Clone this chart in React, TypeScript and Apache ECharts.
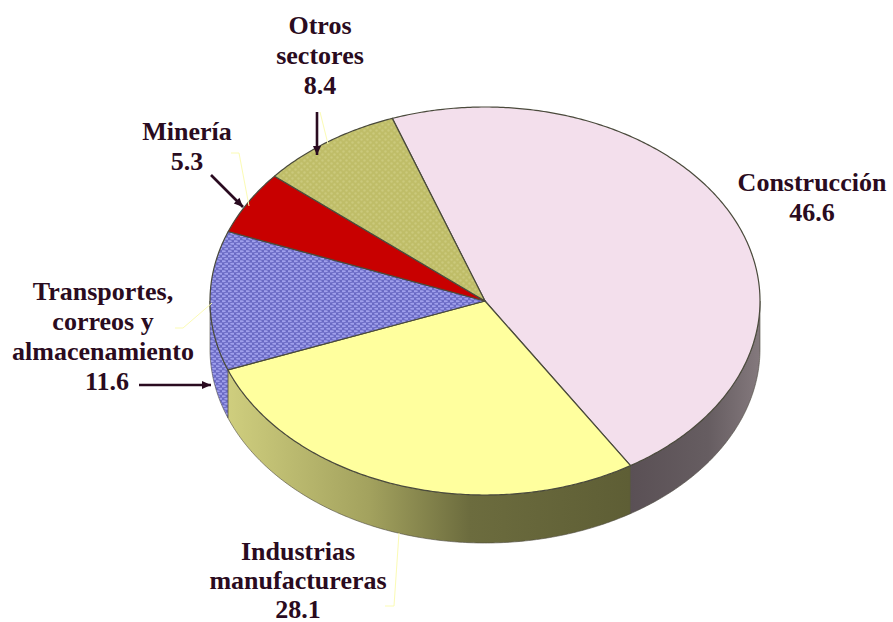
import React, { useEffect, useRef } from "react";
import * as echarts from "echarts";

const categories = ["Construcción", "Industrias manufactureras", "Transportes, correos y almacenamiento", "Minería", "Otros sectores"];
const values = [46.6, 28.1, 11.6, 5.3, 8.4];
const labelLines = [
  ["Construcción"],
  ["Industrias", "manufactureras"],
  ["Transportes,", "correos y", "almacenamiento"],
  ["Minería"],
  ["Otros", "sectores"],
];

const FONT = '"Liberation Serif", "Times New Roman", serif';
const INK = "#2a0b20";
const LEADER = "#fbfbb4";

function makePattern(w: number, h: number, bg: string, dot: string, rx: number, ry: number) {
  const c = document.createElement("canvas");
  c.width = w;
  c.height = h;
  const g = c.getContext("2d")!;
  g.fillStyle = bg;
  g.fillRect(0, 0, w, h);
  g.fillStyle = dot;
  const pts = [[w / 4, h / 4], [(3 * w) / 4, (3 * h) / 4]];
  pts.forEach(([x, y]) => {
    g.beginPath();
    g.ellipse(x, y, rx, ry, 0, 0, Math.PI * 2);
    g.fill();
  });
  return c;
}

export default function App() {
  const ref = useRef<HTMLDivElement>(null);
  useEffect(() => {
    const chart = echarts.init(ref.current!, null, { renderer: "svg" });
    const cx = 485, cy = 301, rx = 275, ry = 194, depth = 48;
    const start = (340.3 * Math.PI) / 180;
    const total = values.reduce((a, b) => a + b, 0);
    const pt = (a: number, dy = 0) => [cx + rx * Math.sin(a), cy - ry * Math.cos(a) + dy];
    const arc = (a0: number, a1: number, dy = 0) => {
      const n = Math.max(2, Math.ceil(Math.abs(a1 - a0) / 0.01));
      const out: number[][] = [];
      for (let i = 0; i <= n; i++) out.push(pt(a0 + ((a1 - a0) * i) / n, dy));
      return out;
    };

    const blue = { image: makePattern(6, 5, "#6a6ac4", "#a0a0ec", 2.4, 1.1), repeat: "repeat" };
    const olive = { image: makePattern(6, 6, "#bfbd68", "#cbc97c", 1.2, 1.2), repeat: "repeat" };
    const tops: any[] = ["#f3dfec", "#ffff9e", blue, "#c80000", olive];
    const gx = (stops: [number, string][]) =>
      new echarts.graphic.LinearGradient(0, 0, 1, 0, stops.map(([offset, color]) => ({ offset, color })));
    const walls: any[] = [
      gx([[0, "#5a5055"], [0.6, "#665d61"], [1, "#84797d"]]),
      gx([[0, "#cfce7e"], [0.35, "#a3a25e"], [0.6, "#6c6c3e"], [1, "#5e5e35"]]),
      blue,
      "#8c0000",
      olive,
    ];

    const sweep = (v: number) => (v / total) * Math.PI * 2;

    const renderItem = (params: any, api: any) => {
      const i = params.dataIndex;
      let a0 = start;
      for (let k = 0; k < i; k++) a0 += sweep(values[k]);
      const a1 = a0 + sweep(api.value(0));
      const children: any[] = [];
      const low0 = Math.PI / 2, low1 = (3 * Math.PI) / 2;
      for (const shift of [0, 2 * Math.PI]) {
        const w0 = Math.max(a0 - shift, low0), w1 = Math.min(a1 - shift, low1);
        if (w1 > w0) {
          children.push({
            type: "polygon",
            z2: 1,
            shape: { points: [...arc(w0, w1), ...arc(w1, w0, depth)] },
            style: { fill: walls[i], stroke: "#4e4a40", lineWidth: 0.6 },
          });
        }
      }
      children.push({
        type: "polygon",
        z2: 10,
        shape: { points: [[cx, cy], ...arc(a0, a1)] },
        style: { fill: tops[i], stroke: "#4a4a3c", lineWidth: 1.2, lineJoin: "round" },
      });
      return { type: "group", children };
    };

    const text = (t: string, x: number, y: number) => ({
      type: "text",
      x,
      y,
      z: 20,
      style: { text: t, x: 0, y: 0, fill: INK, font: `bold 26px ${FONT}`, align: "center", verticalAlign: "middle" },
    });
    const line = (pts: number[][], stroke: string, lineWidth: number) => ({
      type: "polyline",
      z: 15,
      shape: { points: pts },
      style: { stroke, lineWidth, fill: "none" },
    });
    const head = (tip: number[], from: number[]) => {
      const L = 9, W = 4;
      const d = Math.hypot(tip[0] - from[0], tip[1] - from[1]);
      const ux = (tip[0] - from[0]) / d, uy = (tip[1] - from[1]) / d;
      return {
        type: "polygon",
        z: 15,
        shape: {
          points: [tip, [tip[0] - ux * L - uy * W, tip[1] - uy * L + ux * W], [tip[0] - ux * L + uy * W, tip[1] - uy * L - ux * W]],
        },
        style: { fill: INK },
      };
    };
    const arrow = (a: number[], b: number[]) => [line([a, b], INK, 2.6), head(b, a)];

    const stack = (lines: string[], value: number, x: number, y: number, step: number, vx = x) => [
      ...lines.map((l, k) => text(l, x, y + k * step)),
      text(value.toFixed(1), vx, y + lines.length * step),
    ];

    const graphic = [
      ...stack(labelLines[0], values[0], 812, 182, 30),
      ...stack(labelLines[1], values[1], 298, 551, 29),
      ...stack(labelLines[2], values[2], 103, 291, 30, 107),
      ...stack(labelLines[3], values[3], 187, 131, 30),
      ...stack(labelLines[4], values[4], 320, 25, 30),
      line([[320, 112], [328, 144]], LEADER, 1),
      line([[231, 153], [239, 153], [249, 206]], LEADER, 1),
      line([[175, 328], [183, 328], [212, 303]], LEADER, 1),
      line([[399, 533], [394, 606], [385, 606]], LEADER, 1),
      ...arrow([317, 112], [317, 155]),
      ...arrow([211, 175], [243, 207]),
      ...arrow([139, 385], [211, 385]),
    ];

    chart.setOption({
      animation: false,
      backgroundColor: "#ffffff",
      series: [
        {
          type: "custom",
          coordinateSystem: "none",
          silent: true,
          renderItem,
          data: values.map((v, i) => ({ name: categories[i], value: [v] })),
        },
      ],
      graphic,
    });
    return () => chart.dispose();
  }, []);
  return <div ref={ref} style={{ position: "fixed", left: 0, top: 0, width: 893, height: 622 }} />;
}
